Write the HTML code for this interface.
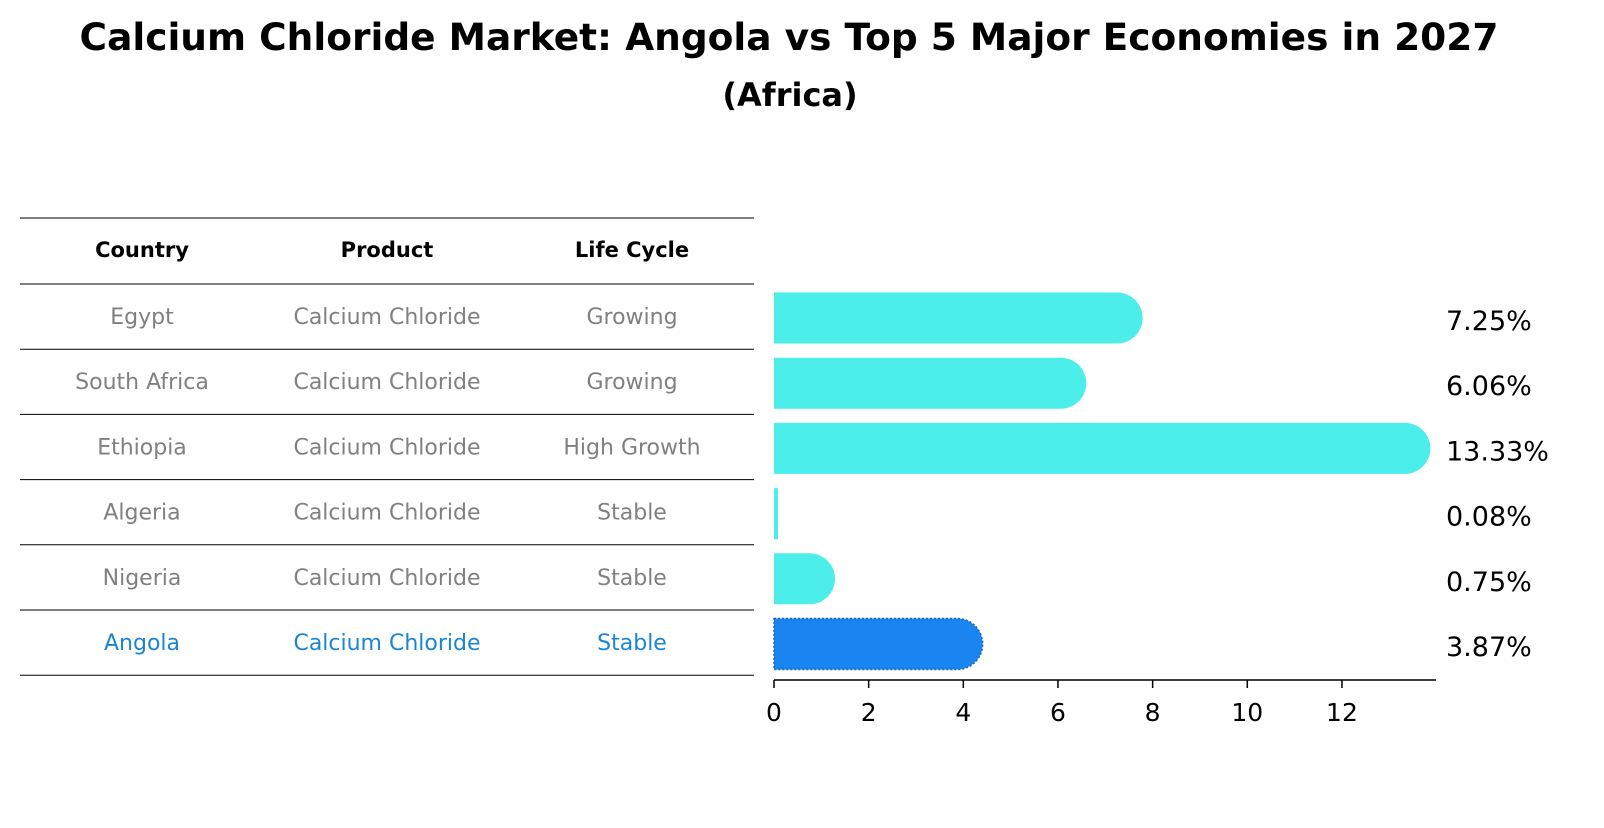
<!DOCTYPE html>
<html><head><meta charset="utf-8"><style>
body{margin:0;background:#fff;font-family:"Liberation Sans","DejaVu Sans",sans-serif}
svg text{font-family:"DejaVu Sans","Liberation Sans",sans-serif}
</style></head><body>
<svg id="c" width="1604" height="823" viewBox="0 0 1604 823" xmlns="http://www.w3.org/2000/svg">
<text x="789" y="50" text-anchor="middle" font-size="37.5" font-weight="bold">Calcium Chloride Market: Angola vs Top 5 Major Economies in 2027</text>
<text x="790" y="106" text-anchor="middle" font-size="32" font-weight="bold">(Africa)</text>
<g id="tbl"></g>
<g id="bars"></g>
<g id="axis"></g>
</svg>
<script>
const countries=["Egypt","South Africa","Ethiopia","Algeria","Nigeria","Angola"];
const products=["Calcium Chloride","Calcium Chloride","Calcium Chloride","Calcium Chloride","Calcium Chloride","Calcium Chloride"];
const lifeCycles=["Growing","Growing","High Growth","Stable","Stable","Stable"];
const values=[7.25,6.06,13.33,0.08,0.75,3.87];
const valueLabels=["7.25%","6.06%","13.33%","0.08%","0.75%","3.87%"];
const ticks=[0,2,4,6,8,10,12];
const NS="http://www.w3.org/2000/svg";
function mk(t,a,p){const e=document.createElementNS(NS,t);for(const k in a)e.setAttribute(k,a[k]);p.appendChild(e);return e;}
const x=v=>774+v*47.33;
const rowTop=i=>284+i*65.2;
const tbl=document.getElementById('tbl'),bars=document.getElementById('bars'),ax=document.getElementById('axis');
const cols=[142,387,632];
const hl=mk('line',{x1:20,x2:754,y1:218,y2:218,stroke:'#000','stroke-width':1},tbl);


["Country","Product","Life Cycle"].forEach((h,j)=>{
 const t=mk('text',{x:cols[j],y:257,'text-anchor':'middle','font-size':21,'font-weight':'bold'},tbl);t.textContent=h;
 
 
});
countries.forEach((c,i)=>{
 const y0=rowTop(i);
 const ln=mk('line',{x1:20,x2:754,y1:y0,y2:y0,stroke:'#000','stroke-width':1},tbl);
 
 
 const col=i===5?'#1a85d6':'#808080';
 [c,products[i],lifeCycles[i]].forEach((v,j)=>{
  const t=mk('text',{x:cols[j],y:y0+40,'text-anchor':'middle','font-size':22,fill:col},tbl);t.textContent=v;
  
  
 });
 const cy=y0+34, h=51, r=25.5, xe=x(values[i]);
 let d;
 if(values[i]>0.5){d=`M${x(0)},${cy-h/2} L${xe},${cy-h/2} A${r},${r} 0 0 1 ${xe},${cy+h/2} L${x(0)},${cy+h/2} Z`;}
 else{d=`M${x(0)},${cy-h/2} L${Math.max(xe,x(0)+4)},${cy-h/2} L${Math.max(xe,x(0)+4)},${cy+h/2} L${x(0)},${cy+h/2} Z`;}
 const attrs={d:d,fill:i===5?'#1a85f0':'#4ceeea'};
 if(i===5){attrs.stroke='#1466c0';attrs['stroke-width']=1.5;attrs['stroke-dasharray']='2,2';}
 const b=mk('path',attrs,bars);
 
 
 const vl=mk('text',{x:1446,y:cy+12,'font-size':27},bars);vl.textContent=valueLabels[i];
 
 
});
const bl=mk('line',{x1:20,x2:754,y1:rowTop(6),y2:rowTop(6),stroke:'#000','stroke-width':1},tbl);


const al=mk('line',{x1:774,x2:1436,y1:680,y2:680,stroke:'#000','stroke-width':1.5},ax);


ticks.forEach(v=>{
 const tk=mk('line',{x1:x(v),x2:x(v),y1:680,y2:688,stroke:'#000','stroke-width':1.5},ax);
 
 
 const t=mk('text',{x:x(v),y:721,'text-anchor':'middle','font-size':25},ax);t.textContent=v;
 
 
});
</script>
</body></html>
